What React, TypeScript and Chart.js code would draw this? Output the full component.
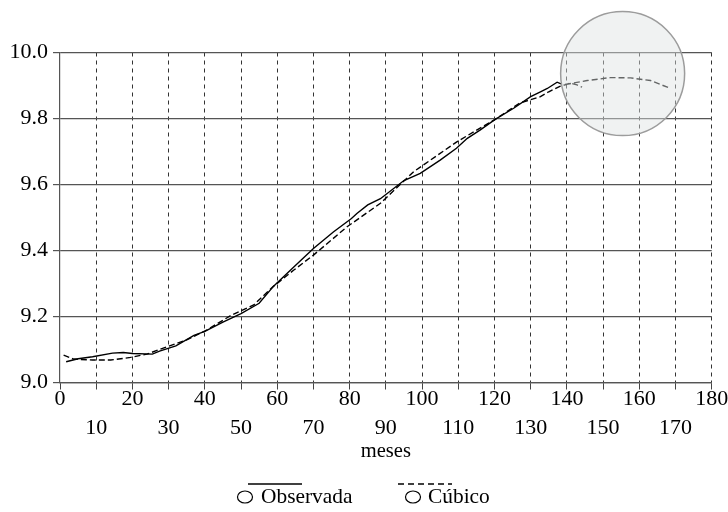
import { useEffect, useRef } from "react";
import { Chart, registerables } from "chart.js";

Chart.register(...registerables);

// ---- data ----
const obsX = [1.7, 5, 9, 14.5, 17.5, 20, 25.5, 27.5, 32, 37, 40, 45, 50, 55, 59, 64.5, 70, 75.5, 80.5, 82, 85, 88.5, 95, 99.5, 105, 109.5, 112.5, 116, 120.3, 125.3, 130, 132.7, 134.6, 137.3, 138.4];
const obsY = [9.063, 9.072, 9.078, 9.089, 9.091, 9.088, 9.086, 9.095, 9.111, 9.143, 9.155, 9.183, 9.209, 9.24, 9.292, 9.349, 9.406, 9.456, 9.497, 9.512, 9.538, 9.557, 9.612, 9.634, 9.674, 9.71, 9.74, 9.765, 9.798, 9.831, 9.866, 9.881, 9.891, 9.91, 9.905];

// fitted (in-sample) part of the cubic trend
const cubFitX = [1, 3.7, 9, 14, 19.5, 24, 29.5, 35, 40.5, 47.5, 53.5, 59, 64.5, 70, 79.3, 88.5, 97.7, 109.7, 120.3, 127, 132.7, 135, 138.2, 141, 142.8, 144.2];
const cubFitY = [9.083, 9.071, 9.068, 9.068, 9.076, 9.086, 9.108, 9.129, 9.159, 9.205, 9.235, 9.292, 9.34, 9.386, 9.472, 9.543, 9.639, 9.73, 9.798, 9.847, 9.866, 9.881, 9.898, 9.907, 9.902, 9.895];
// forecast part of the cubic trend
const cubFcX = [139.5, 145.6, 152, 157.6, 163.1, 168.2];
const cubFcY = [9.903, 9.915, 9.924, 9.923, 9.915, 9.893];

const seriesNames = ["Observada", "Cúbico"];
const xAxisTitle = "meses";

const xMin = 0, xMax = 180, xStep = 10;
const yMin = 9.0, yMax = 10.0, yStep = 0.2;

// highlighted region (data units)
const spotX = 155.4;
const spotY = 9.936;

const FONT = "'Liberation Serif', 'Times New Roman', serif";

const zip = (xs: number[], ys: number[]) => xs.map((x, i) => ({ x, y: ys[i] }));

export default function App() {
  const ref = useRef<HTMLCanvasElement | null>(null);

  useEffect(() => {
    if (!ref.current) return;

    const cubData: any[] = [...zip(cubFitX, cubFitY), { x: 144.5, y: null }, ...zip(cubFcX, cubFcY)];

    const overlay = {
      id: "overlay",
      afterDatasetsDraw(chart: any) {
        const { ctx, scales } = chart;
        const cx = scales.x.getPixelForValue(spotX);
        const cy = scales.y.getPixelForValue(spotY);
        ctx.save();
        ctx.beginPath();
        ctx.arc(cx, cy, 62, 0, Math.PI * 2);
        ctx.fillStyle = "rgba(222,226,226,0.45)";
        ctx.fill();
        ctx.strokeStyle = "#9c9c9c";
        ctx.lineWidth = 1.5;
        ctx.stroke();
        ctx.restore();
      },
      afterDraw(chart: any) {
        const { ctx } = chart;
        const items = [
          { label: seriesNames[0], dash: [] as number[], lx: 248, ex: 245, tx: 261 },
          { label: seriesNames[1], dash: [6, 4], lx: 398, ex: 413, tx: 428 },
        ];
        ctx.save();
        ctx.font = `21.4px ${FONT}`;
        ctx.fillStyle = "#000";
        ctx.strokeStyle = "#000";
        ctx.textBaseline = "middle";
        ctx.textAlign = "left";
        for (const it of items) {
          ctx.setLineDash(it.dash);
          ctx.lineWidth = 1.5;
          ctx.beginPath();
          ctx.moveTo(it.lx, 484);
          ctx.lineTo(it.lx + 54, 484);
          ctx.stroke();
          ctx.setLineDash([]);
          ctx.lineWidth = 1.2;
          ctx.beginPath();
          ctx.ellipse(it.ex, 497, 7.5, 6, 0, 0, Math.PI * 2);
          ctx.stroke();
          ctx.fillText(it.label, it.tx, 497);
        }
        ctx.restore();
      },
    };

    const chart = new Chart(ref.current, {
      type: "line",
      data: {
        datasets: [
          {
            label: seriesNames[0],
            data: zip(obsX, obsY),
            borderColor: "#000",
            borderWidth: 1.4,
            pointRadius: 0,
            tension: 0,
            fill: false,
          },
          {
            label: seriesNames[1],
            data: cubData,
            borderColor: "#000",
            borderWidth: 1.4,
            borderDash: [6, 3],
            pointRadius: 0,
            tension: 0,
            fill: false,
            spanGaps: false,
          },
        ],
      },
      options: {
        animation: false,
        responsive: false,
        layout: { padding: { left: 0, right: 16.3, top: 52.5, bottom: 48 } },
        plugins: { legend: { display: false }, tooltip: { enabled: false } },
        scales: {
          x: {
            type: "linear",
            min: xMin,
            max: xMax,
            afterFit: (s: any) => {
              s.height = 81.5;
            },
            ticks: {
              stepSize: xStep,
              color: "#000",
              padding: -5,
              maxRotation: 0,
              autoSkip: false,
              font: { family: FONT, size: 22, lineHeight: 1.32 },
              callback: (v: any) => {
                const n = Math.round(Number(v));
                return (n / xStep) % 2 === 0 ? String(n) : ["", String(n)];
              },
            },
            grid: {
              color: (c: any) => (c.tick && c.tick.value === xMin ? "rgba(0,0,0,0)" : "#333"),
              lineWidth: 1,
              tickLength: 7,
              tickColor: "#444",
              tickBorderDash: [],
            },
            border: { display: true, color: "#555", width: 1.2, dash: [4, 4] },
            title: {
              display: true,
              text: xAxisTitle,
              color: "#000",
              font: { family: FONT, size: 20.5 },
              padding: { top: 0, bottom: 0 },
            },
          },
          y: {
            type: "linear",
            min: yMin,
            max: yMax,
            afterFit: (s: any) => {
              s.width = 60;
            },
            ticks: {
              stepSize: yStep,
              color: "#000",
              padding: 5,
              font: { family: FONT, size: 22 },
              callback: (v: any) => Number(v).toFixed(1),
            },
            grid: {
              color: "#555",
              lineWidth: 1.2,
              tickLength: 7,
              tickColor: "#555",
            },
            border: { display: true, color: "#555", width: 1.2 },
          },
        },
      },
      plugins: [overlay],
    } as any);

    return () => chart.destroy();
  }, []);

  return (
    <div style={{ position: "fixed", left: 0, top: 0, width: 728, height: 512, background: "#fff" }}>
      <canvas ref={ref} width={728} height={512} style={{ display: "block" }} />
    </div>
  );
}
